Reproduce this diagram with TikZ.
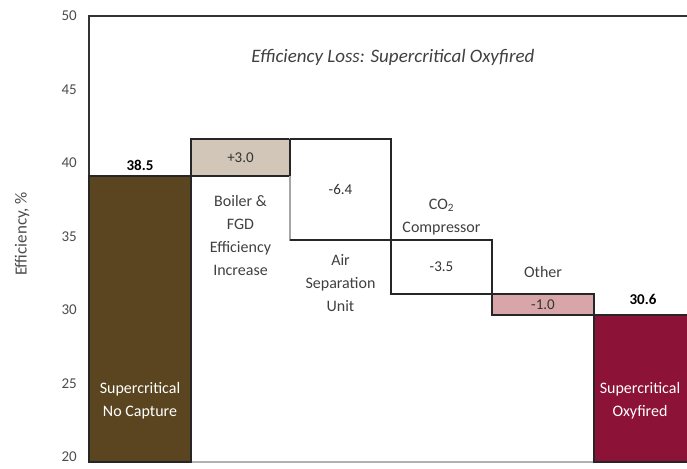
\documentclass[tikz,border=0pt]{standalone}
\usepackage{fontspec}
\setmainfont{Carlito}
\usepackage{tikz}
\usetikzlibrary{positioning}

\definecolor{capbrown}{HTML}{5A4520}
\definecolor{oxyred}{HTML}{8C1238}
\definecolor{gaintan}{HTML}{D2C6B8}
\definecolor{losspink}{HTML}{D8A6A8}

\begin{document}
\begin{tikzpicture}[
  x=1pt, y=1pt,
  bar/.style={draw=black!85, line width=1.6pt, anchor=south west, inner sep=0pt, outer sep=0pt},
  delta/.style={bar, text=black!80, font=\fontsize{15}{18}\selectfont},
  edge/.style={draw=black!85, line width=1.6pt},
  lbl/.style={align=center, inner sep=2pt, text=black!75, font=\fontsize{16}{23}\selectfont},
  val/.style={inner sep=2pt, font=\bfseries\fontsize{15}{18}\selectfont},
  barlbl/.style={align=center, text=white, font=\fontsize{16}{23}\selectfont},
  tick/.style={anchor=east, inner sep=1pt, text=black!70, font=\fontsize{15}{18}\selectfont}
]
\useasboundingbox (0,0) rectangle (687,468);

% frame and axis
\draw[line width=1.6pt, black!80] (89,6) -- (89,452) -- (692,452);
\draw[line width=1.6pt, black!30] (89,6) -- (692,6);
\foreach \v in {20,25,...,50}
  \node[tick] (tk\v) at (78,{452-(50-\v)*14.7}) {\v};
\node[rotate=90, text=black!70, font=\fontsize{17}{20}\selectfont] (ylab) at (22,234) {Efficiency, \%};

\node[text=black!75, font=\itshape\fontsize{19}{22}\selectfont] (title) at (393,411) {Efficiency Loss: Supercritical Oxyfired};

% bars and steps
\node[bar, fill=capbrown, minimum width=102, minimum height=286] (noCap) at (89,6) {};
\node[delta, fill=gaintan, minimum width=99, minimum height=37] (dBoiler) at (191,292) {+3.0};
\node[delta, draw=black!35, fill=white, minimum width=101, minimum height=101] (dAsu) at (290,228) {-6.4};
\draw[edge] (dAsu.south west) -- (dAsu.south east) -- (dAsu.north east) -- (dAsu.north west);
\node[delta, fill=white, minimum width=101, minimum height=54] (dCo2) at (391,174) {-3.5};
\node[delta, fill=losspink, minimum width=102, minimum height=21] (dOther) at (492,153) {-1.0};
\node[bar, fill=oxyred, minimum width=98, minimum height=147] (oxy) at (594,6) {};
\draw[edge] (dBoiler.north east) -- (dBoiler.south east);

% labels
\node[val, above=3pt of noCap] (vNoCap) {38.5};
\node[val, above=8pt of oxy] (vOxy) {30.6};
\node[lbl, below=17pt of dBoiler] (lBoiler) {Boiler \&\\FGD\\Efficiency\\Increase};
\node[lbl, below=12pt of dAsu] (lAsu) {Air\\Separation\\Unit};
\node[lbl, above=3pt of dCo2] (lCo2) {CO\textsubscript{2}\\Compressor};
\node[lbl, above=14pt of dOther] (lOther) {Other};
\node[barlbl] (lNoCap) at (140,67) {Supercritical\\No Capture};
\node[barlbl] (lOxy) at (640,67) {Supercritical\\Oxyfired};
\end{tikzpicture}
\end{document}
